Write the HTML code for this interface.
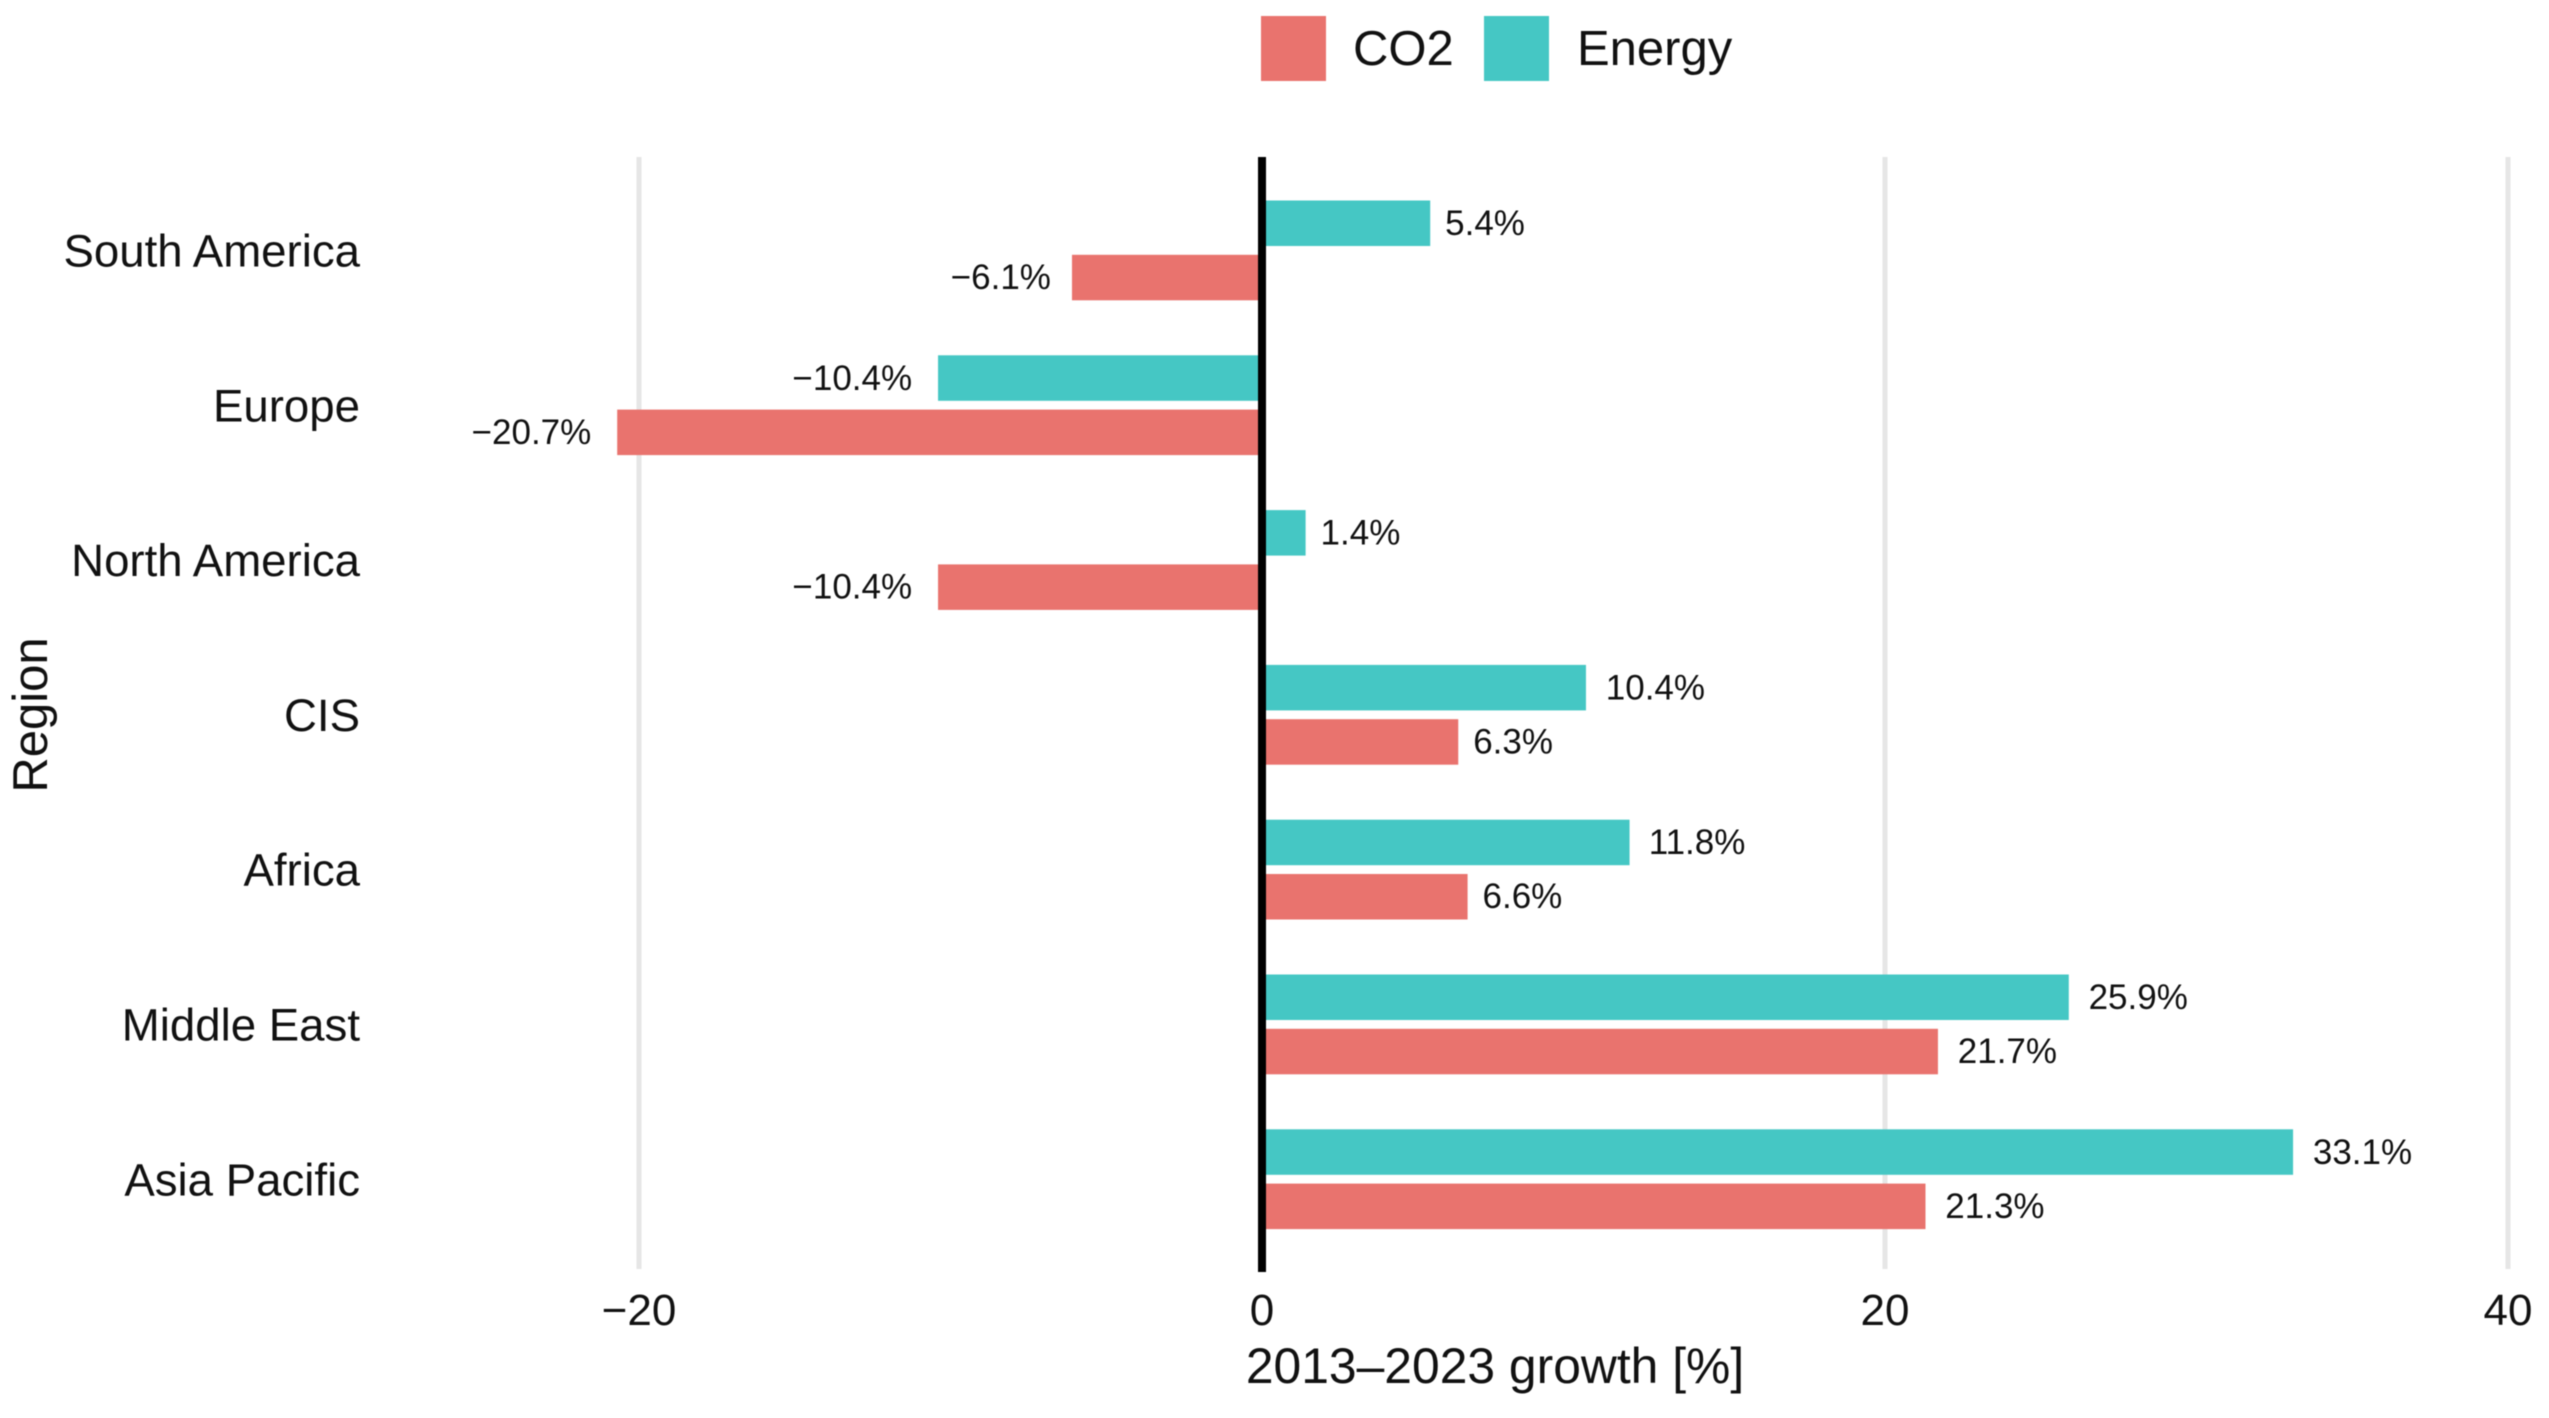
<!DOCTYPE html>
<html lang="en">
<head>
<meta charset="utf-8">
<title>2013–2023 growth by region</title>
<style>
html,body{margin:0;padding:0;background:#fff;width:2549px;height:1418px;overflow:hidden}
svg{display:block;filter:blur(0.6px)}
text{font-family:"Liberation Sans",Arial,sans-serif;fill:#111}
</style>
</head>
<body>
<svg id="chart" xmlns="http://www.w3.org/2000/svg" width="2549" height="1418" viewBox="0 0 2549 1418">
  <rect x="0" y="0" width="2549" height="1418" fill="#ffffff"/>
  <g id="grid"></g>
  <g id="bars"></g>
  <g id="labels"></g>
  <g id="yaxis"></g>
  <g id="xaxis"></g>
  <text transform="translate(47,715) rotate(-90)" text-anchor="middle" font-size="49">Region</text>
  <text x="1495" y="1383" text-anchor="middle" font-size="49.8">2013–2023 growth [%]</text>
  <g>
    <rect x="1261" y="16" width="65" height="65" fill="#e9736e"/>
    <text x="1353" y="65" font-size="49">CO2</text>
    <rect x="1484" y="16" width="65" height="65" fill="#45c7c4"/>
    <text x="1577" y="65" font-size="49">Energy</text>
  </g>
</svg>
<script>
var regions = ["South America","Europe","North America","CIS","Africa","Middle East","Asia Pacific"];
var energyValues = [5.4,-10.4,1.4,10.4,11.8,25.9,33.1];
var co2Values = [-6.1,-20.7,-10.4,6.3,6.6,21.7,21.3];
var xTicks = [-20,0,20,40];

var NS = "http://www.w3.org/2000/svg";
function xScale(v){ return 1262 + v * 31.15; }
function yScale(i){ return 250 + i * 154.8; }
function make(tag, attrs, parent){
  var el = document.createElementNS(NS, tag);
  for (var k in attrs) el.setAttribute(k, attrs[k]);
  parent.appendChild(el);
  return el;
}
function signed(v){ return (v < 0 ? "\u2212" : "") + Math.abs(v); }
function pct(v){ return (v < 0 ? "\u2212" : "") + Math.abs(v).toFixed(1) + "%"; }

var grid = document.getElementById("grid");
var bars = document.getElementById("bars");
var labels = document.getElementById("labels");
var yaxis = document.getElementById("yaxis");
var xaxis = document.getElementById("xaxis");
var BAR_H = 45.5;

xTicks.forEach(function(t){
  if (t !== 0) {
    var g = make("rect", {x: xScale(t) - 2.5, y: 157, width: 5, height: 1112, fill: "#e6e6e6"}, grid);
    
    
  }
  var tk = make("text", {x: xScale(t), y: 1325, "text-anchor": "middle", "font-size": 44}, xaxis);
  tk.textContent = signed(t);
  
  
});

function drawBar(value, top, color, name, cy){
  var xa = xScale(Math.min(value, 0));
  var xb = xScale(Math.max(value, 0));
  var r = make("rect", {x: xa, y: top, width: xb - xa, height: BAR_H, fill: color}, bars);
  
  
  var t = make("text", {y: cy + 12, "font-size": 35, fill: "#1a1a1a"}, labels);
  t.textContent = pct(value);
  
  
  var gap = 0.25 * t.getComputedTextLength() - 4;
  if (value < 0) {
    t.setAttribute("text-anchor", "end");
    t.setAttribute("x", xScale(value) - gap);
  } else {
    t.setAttribute("x", xScale(value) + gap - 1);
  }
}

regions.forEach(function(name, i){
  var c = yScale(i);
  drawBar(energyValues[i], c - 49.5, "#45c7c4", "bar-energy", c - 27);
  drawBar(co2Values[i], c + 4.8, "#e9736e", "bar-co2", c + 27);
  var l = make("text", {x: 360, y: c + 16.5, "text-anchor": "end", "font-size": 45.6}, yaxis);
  l.textContent = name;
  
  
});

var zero = make("rect", {x: xScale(0) - 4, y: 157, width: 8, height: 1115, fill: "#000000"}, document.getElementById("chart"));


</script>
</body>
</html>
